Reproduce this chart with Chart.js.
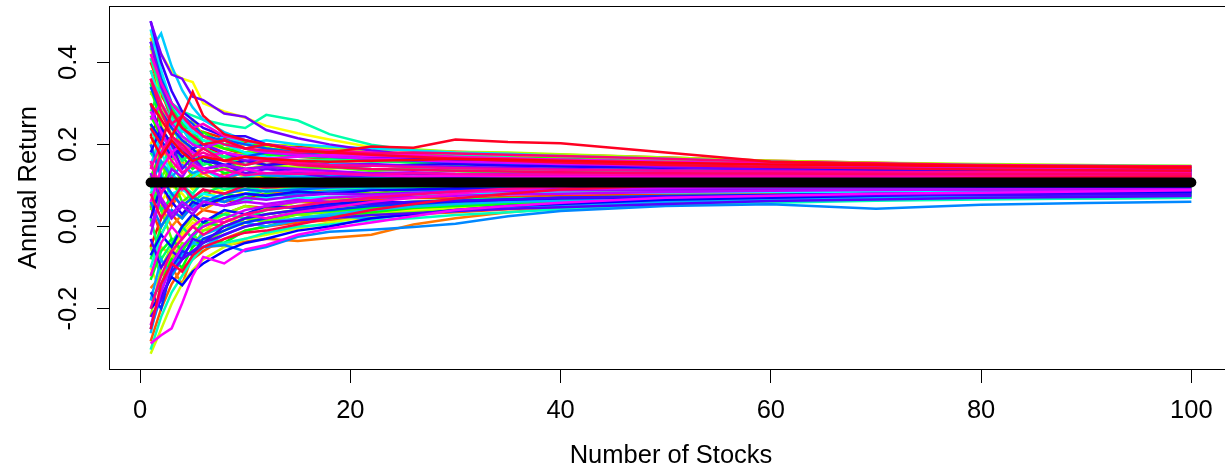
<!DOCTYPE html>
<html>
<head>
<meta charset="utf-8">
<title>Annual Return vs Number of Stocks</title>
<script src="https://cdn.jsdelivr.net/npm/chart.js@4"></script>
<style>
  html, body { margin: 0; padding: 0; background: #fff; overflow: hidden; }
  #wrap { width: 1240px; height: 470px; }
</style>
</head>
<body>
<div id="wrap"><canvas id="chart" width="1240" height="470"></canvas></div>
<script>
// number of stocks held (x positions where each curve was read)
const stockCounts = [1, 2, 3, 4, 5, 6, 8, 10, 12, 15, 18, 22, 26, 30, 35, 40, 50, 60, 70, 80, 90, 100];

// annual return of each simulated portfolio
const s00 = [0.22, 0.28, 0.24, 0.21, 0.19, 0.2, 0.17, 0.16, 0.15, 0.16, 0.155, 0.15, 0.145, 0.14, 0.138, 0.135, 0.13, 0.128, 0.127, 0.126, 0.125, 0.125];
const s01 = [-0.05, 0.02, 0.08, 0.05, 0.07, 0.09, 0.06, 0.07, 0.08, 0.075, 0.085, 0.08, 0.09, 0.088, 0.092, 0.09, 0.094, 0.096, 0.095, 0.096, 0.095, 0.095];
const s02 = [0.40, 0.33, 0.26, 0.24, 0.2, 0.22, 0.19, 0.175, 0.18, 0.17, 0.165, 0.16, 0.158, 0.155, 0.15, 0.148, 0.145, 0.142, 0.14, 0.14, 0.139, 0.138];
const s03 = [0.05, -0.02, 0.03, 0.0, 0.02, 0.04, 0.03, 0.05, 0.045, 0.06, 0.055, 0.065, 0.07, 0.068, 0.072, 0.075, 0.078, 0.08, 0.08, 0.081, 0.082, 0.082];
const s04 = [0.15, 0.1, 0.05, 0.09, 0.12, 0.1, 0.13, 0.11, 0.12, 0.105, 0.115, 0.11, 0.12, 0.115, 0.11, 0.113, 0.11, 0.112, 0.114, 0.113, 0.112, 0.112];
const s05 = [-0.15, -0.12, -0.1, -0.14, -0.07, -0.05, -0.046, -0.037, -0.03, -0.035, -0.028, -0.02, 0.005, 0.02, 0.035, 0.045, 0.06, 0.068, 0.074, 0.078, 0.08, 0.082];
const s06 = [0.30, 0.2, 0.14, 0.16, 0.12, 0.13, 0.1, 0.11, 0.09, 0.1, 0.095, 0.1, 0.093, 0.097, 0.1, 0.098, 0.096, 0.097, 0.098, 0.099, 0.098, 0.098];
const s07 = [0.1, 0.2, 0.17, 0.21, 0.18, 0.19, 0.17, 0.18, 0.19, 0.175, 0.17, 0.165, 0.16, 0.158, 0.155, 0.152, 0.15, 0.148, 0.147, 0.146, 0.145, 0.145];
const s08 = [-0.12, -0.05, -0.07, -0.02, 0.0, -0.01, 0.02, 0.01, 0.03, 0.04, 0.045, 0.05, 0.055, 0.06, 0.062, 0.065, 0.068, 0.07, 0.072, 0.073, 0.074, 0.074];
const s09 = [0.2, 0.25, 0.18, 0.15, 0.16, 0.13, 0.14, 0.12, 0.12, 0.11, 0.105, 0.1, 0.098, 0.095, 0.093, 0.092, 0.09, 0.089, 0.088, 0.088, 0.087, 0.087];
const s10 = [0.47, 0.42, 0.377, 0.36, 0.352, 0.30, 0.28, 0.265, 0.245, 0.227, 0.212, 0.193, 0.183, 0.17, 0.162, 0.155, 0.142, 0.135, 0.128, 0.125, 0.122, 0.12];
const s11 = [0.0, 0.06, 0.1, 0.08, 0.05, 0.07, 0.09, 0.08, 0.1, 0.09, 0.1, 0.095, 0.1, 0.105, 0.102, 0.104, 0.106, 0.105, 0.104, 0.105, 0.105, 0.105];
const s12 = [-0.31, -0.25, -0.188, -0.14, -0.106, -0.08, -0.05, -0.03, -0.02, -0.005, 0.01, 0.025, 0.035, 0.045, 0.055, 0.06, 0.07, 0.075, 0.078, 0.08, 0.082, 0.083];
const s13 = [0.44, 0.3, 0.22, 0.18, 0.16, 0.15, 0.17, 0.14, 0.15, 0.145, 0.14, 0.15, 0.145, 0.14, 0.138, 0.136, 0.135, 0.133, 0.132, 0.131, 0.131, 0.131];
const s14 = [-0.22, -0.1, -0.05, -0.01, 0.02, 0.0, 0.03, 0.05, 0.04, 0.06, 0.065, 0.07, 0.075, 0.078, 0.08, 0.082, 0.085, 0.086, 0.087, 0.088, 0.088, 0.088];
const s15 = [0.33, 0.27, 0.24, 0.2, 0.22, 0.19, 0.2, 0.18, 0.19, 0.185, 0.175, 0.17, 0.165, 0.162, 0.16, 0.158, 0.155, 0.152, 0.15, 0.149, 0.148, 0.148];
const s16 = [0.1, 0.04, -0.03, -0.06, -0.02, -0.04, -0.01, 0.02, 0.01, 0.03, 0.035, 0.045, 0.05, 0.055, 0.058, 0.062, 0.065, 0.068, 0.07, 0.071, 0.072, 0.072];
const s17 = [0.05, 0.12, 0.16, 0.19, 0.15, 0.17, 0.14, 0.16, 0.15, 0.14, 0.145, 0.135, 0.14, 0.135, 0.13, 0.128, 0.126, 0.125, 0.124, 0.123, 0.122, 0.122];
const s18 = [0.25, 0.15, 0.12, 0.06, 0.08, 0.05, 0.07, 0.06, 0.08, 0.075, 0.085, 0.08, 0.088, 0.09, 0.087, 0.09, 0.091, 0.092, 0.092, 0.092, 0.092, 0.092];
const s19 = [0.12, 0.18, 0.22, 0.25, 0.21, 0.23, 0.2, 0.21, 0.19, 0.18, 0.175, 0.168, 0.16, 0.158, 0.155, 0.152, 0.148, 0.146, 0.144, 0.142, 0.141, 0.14];
const s20 = [-0.18, -0.14, -0.08, -0.1, -0.05, -0.03, -0.04, -0.01, 0.0, 0.02, 0.025, 0.035, 0.045, 0.05, 0.055, 0.058, 0.062, 0.065, 0.067, 0.068, 0.069, 0.07];
const s21 = [0.35, 0.24, 0.2, 0.17, 0.14, 0.16, 0.13, 0.14, 0.12, 0.13, 0.125, 0.12, 0.118, 0.12, 0.116, 0.118, 0.116, 0.115, 0.116, 0.115, 0.115, 0.115];
const s22 = [-0.08, 0.0, 0.04, 0.02, 0.06, 0.05, 0.08, 0.07, 0.09, 0.085, 0.08, 0.09, 0.095, 0.092, 0.096, 0.098, 0.1, 0.099, 0.1, 0.1, 0.1, 0.1];
const s23 = [0.28, 0.34, 0.29, 0.25, 0.23, 0.2, 0.21, 0.19, 0.18, 0.17, 0.168, 0.16, 0.155, 0.15, 0.148, 0.145, 0.142, 0.14, 0.138, 0.136, 0.135, 0.135];
const s24 = [0.02, -0.08, -0.04, 0.0, -0.03, 0.01, 0.03, 0.02, 0.04, 0.05, 0.048, 0.055, 0.06, 0.065, 0.068, 0.07, 0.074, 0.076, 0.078, 0.079, 0.08, 0.08];
const s25 = [0.18, 0.14, 0.2, 0.16, 0.18, 0.15, 0.17, 0.15, 0.16, 0.15, 0.145, 0.14, 0.138, 0.135, 0.133, 0.132, 0.13, 0.129, 0.128, 0.127, 0.126, 0.126];
const s26 = [0.08, 0.13, 0.07, 0.1, 0.08, 0.11, 0.09, 0.1, 0.085, 0.095, 0.09, 0.095, 0.092, 0.094, 0.095, 0.094, 0.093, 0.094, 0.094, 0.094, 0.094, 0.094];
const s27 = [0.35, 0.33, 0.30, 0.28, 0.27, 0.26, 0.248, 0.24, 0.272, 0.258, 0.225, 0.199, 0.185, 0.175, 0.168, 0.16, 0.15, 0.142, 0.138, 0.135, 0.132, 0.13];
const s28 = [-0.1, -0.02, 0.03, 0.06, 0.04, 0.07, 0.06, 0.08, 0.09, 0.085, 0.095, 0.1, 0.098, 0.102, 0.104, 0.106, 0.107, 0.108, 0.109, 0.109, 0.109, 0.109];
const s29 = [0.38, 0.3, 0.26, 0.23, 0.24, 0.21, 0.2, 0.19, 0.2, 0.19, 0.18, 0.175, 0.17, 0.165, 0.16, 0.157, 0.152, 0.149, 0.147, 0.145, 0.144, 0.143];
const s30 = [0.09, 0.085, 0.08, 0.09, 0.075, 0.08, 0.07, 0.065, 0.07, 0.068, 0.072, 0.075, 0.078, 0.08, 0.08, 0.082, 0.083, 0.084, 0.085, 0.086, 0.086, 0.086];
const s31 = [0.48, 0.38, 0.3, 0.26, 0.23, 0.22, 0.2, 0.18, 0.17, 0.16, 0.155, 0.15, 0.145, 0.142, 0.14, 0.138, 0.135, 0.133, 0.131, 0.13, 0.129, 0.128];
const s32 = [0.43, 0.47, 0.39, 0.332, 0.29, 0.26, 0.23, 0.21, 0.2, 0.19, 0.185, 0.175, 0.17, 0.165, 0.158, 0.152, 0.145, 0.14, 0.137, 0.135, 0.133, 0.13];
const s33 = [-0.26, -0.15, -0.1, -0.07, -0.04, -0.05, -0.02, 0.0, 0.01, 0.02, 0.03, 0.04, 0.048, 0.055, 0.06, 0.063, 0.068, 0.071, 0.073, 0.075, 0.076, 0.076];
const s34 = [0.1, 0.16, 0.12, 0.15, 0.13, 0.14, 0.12, 0.13, 0.125, 0.12, 0.125, 0.12, 0.118, 0.12, 0.119, 0.118, 0.117, 0.118, 0.117, 0.117, 0.117, 0.117];
const s35 = [-0.25, -0.17, -0.12, -0.08, -0.06, -0.05, -0.045, -0.06, -0.05, -0.025, -0.013, -0.008, -0.001, 0.007, 0.025, 0.038, 0.05, 0.054, 0.043, 0.053, 0.057, 0.060];
const s36 = [0.2, 0.12, 0.08, 0.05, 0.07, 0.06, 0.08, 0.09, 0.085, 0.09, 0.095, 0.098, 0.1, 0.099, 0.1, 0.101, 0.102, 0.101, 0.102, 0.102, 0.102, 0.102];
const s37 = [0.45, 0.36, 0.3, 0.27, 0.25, 0.22, 0.21, 0.2, 0.19, 0.18, 0.172, 0.165, 0.16, 0.155, 0.152, 0.15, 0.146, 0.143, 0.141, 0.139, 0.138, 0.137];
const s38 = [-0.16, -0.2, -0.1, -0.06, -0.07, -0.03, -0.01, 0.01, 0.02, 0.035, 0.04, 0.05, 0.055, 0.06, 0.065, 0.07, 0.074, 0.077, 0.08, 0.082, 0.083, 0.084];
const s39 = [0.25, 0.21, 0.17, 0.19, 0.16, 0.17, 0.15, 0.14, 0.145, 0.135, 0.13, 0.13, 0.128, 0.125, 0.124, 0.123, 0.122, 0.121, 0.121, 0.12, 0.12, 0.12];
const s40 = [-0.2, -0.17, -0.123, -0.143, -0.11, -0.09, -0.06, -0.04, -0.03, -0.01, 0.0, 0.02, 0.03, 0.04, 0.05, 0.055, 0.065, 0.07, 0.075, 0.08, 0.083, 0.085];
const s41 = [0.02, 0.1, 0.06, 0.03, 0.06, 0.05, 0.07, 0.08, 0.075, 0.085, 0.08, 0.088, 0.09, 0.093, 0.092, 0.094, 0.095, 0.096, 0.096, 0.097, 0.097, 0.097];
const s42 = [0.5, 0.4, 0.33, 0.28, 0.26, 0.24, 0.22, 0.22, 0.2, 0.19, 0.18, 0.17, 0.165, 0.16, 0.155, 0.152, 0.145, 0.141, 0.138, 0.136, 0.134, 0.133];
const s43 = [-0.03, -0.1, -0.06, -0.08, -0.03, -0.04, 0.0, 0.02, 0.03, 0.04, 0.05, 0.055, 0.06, 0.063, 0.066, 0.07, 0.072, 0.074, 0.076, 0.077, 0.078, 0.078];
const s44 = [0.3, 0.22, 0.2, 0.14, 0.17, 0.14, 0.15, 0.13, 0.14, 0.13, 0.12, 0.125, 0.12, 0.118, 0.116, 0.115, 0.114, 0.113, 0.113, 0.113, 0.113, 0.113];
const s45 = [0.50, 0.42, 0.37, 0.36, 0.316, 0.308, 0.275, 0.267, 0.235, 0.215, 0.2, 0.185, 0.175, 0.165, 0.16, 0.155, 0.145, 0.138, 0.132, 0.13, 0.128, 0.126];
const s46 = [0.13, 0.06, 0.02, 0.05, 0.03, 0.06, 0.05, 0.07, 0.065, 0.075, 0.08, 0.078, 0.082, 0.085, 0.086, 0.088, 0.089, 0.09, 0.09, 0.09, 0.09, 0.09];
const s47 = [-0.02, 0.08, 0.14, 0.12, 0.16, 0.14, 0.15, 0.14, 0.145, 0.14, 0.135, 0.13, 0.132, 0.128, 0.127, 0.126, 0.125, 0.125, 0.124, 0.124, 0.124, 0.124];
const s48 = [-0.24, -0.16, -0.09, -0.05, -0.02, 0.0, 0.02, 0.04, 0.05, 0.06, 0.07, 0.075, 0.08, 0.085, 0.088, 0.09, 0.094, 0.097, 0.098, 0.099, 0.1, 0.1];
const s49 = [0.26, 0.3, 0.25, 0.22, 0.2, 0.19, 0.21, 0.19, 0.18, 0.175, 0.17, 0.165, 0.162, 0.158, 0.155, 0.152, 0.149, 0.146, 0.144, 0.142, 0.141, 0.141];
const s50 = [-0.285, -0.265, -0.248, -0.187, -0.12, -0.074, -0.09, -0.056, -0.045, -0.02, -0.005, 0.01, 0.025, 0.04, 0.05, 0.058, 0.07, 0.075, 0.08, 0.082, 0.085, 0.088];
const s51 = [0.06, 0.14, 0.18, 0.13, 0.15, 0.14, 0.12, 0.14, 0.13, 0.135, 0.13, 0.125, 0.122, 0.124, 0.122, 0.121, 0.12, 0.12, 0.119, 0.119, 0.119, 0.119];
const s52 = [0.42, 0.35, 0.3, 0.27, 0.24, 0.25, 0.22, 0.21, 0.2, 0.19, 0.185, 0.18, 0.175, 0.17, 0.166, 0.162, 0.156, 0.152, 0.15, 0.148, 0.147, 0.146];
const s53 = [0.16, 0.08, 0.12, 0.09, 0.11, 0.1, 0.12, 0.11, 0.105, 0.11, 0.108, 0.11, 0.107, 0.108, 0.109, 0.108, 0.108, 0.108, 0.108, 0.108, 0.108, 0.108];
const s54 = [0.1, 0.18, 0.22, 0.19, 0.17, 0.18, 0.16, 0.17, 0.16, 0.155, 0.15, 0.148, 0.145, 0.142, 0.14, 0.138, 0.136, 0.134, 0.133, 0.132, 0.132, 0.132];
const s55 = [-0.2, -0.12, -0.06, -0.03, 0.0, -0.02, 0.01, 0.03, 0.04, 0.05, 0.06, 0.07, 0.078, 0.085, 0.092, 0.097, 0.104, 0.108, 0.111, 0.113, 0.114, 0.115];
const s56 = [0.36, 0.28, 0.22, 0.2, 0.17, 0.19, 0.16, 0.15, 0.16, 0.15, 0.145, 0.14, 0.138, 0.136, 0.134, 0.132, 0.13, 0.129, 0.128, 0.127, 0.127, 0.127];
const s57 = [0.08, 0.02, 0.06, 0.1, 0.07, 0.09, 0.08, 0.1, 0.095, 0.1, 0.098, 0.1, 0.102, 0.103, 0.103, 0.104, 0.104, 0.104, 0.104, 0.104, 0.104, 0.104];
const s58 = [0.24, 0.2, 0.28, 0.24, 0.22, 0.2, 0.21, 0.19, 0.2, 0.185, 0.18, 0.175, 0.17, 0.165, 0.16, 0.156, 0.15, 0.145, 0.142, 0.139, 0.137, 0.136];
const s59 = [0.30, 0.26, 0.22, 0.268, 0.328, 0.27, 0.225, 0.21, 0.20, 0.185, 0.18, 0.195, 0.192, 0.212, 0.206, 0.203, 0.18, 0.158, 0.152, 0.148, 0.145, 0.142];

// more portfolios read from the dense middle of the fan
const p00 = [0.38, 0.32, 0.28, 0.26, 0.24, 0.23, 0.215, 0.205, 0.2, 0.195, 0.19, 0.188, 0.185, 0.182, 0.178, 0.175, 0.168, 0.16, 0.155, 0.15, 0.147, 0.145];
const p01 = [-0.28, -0.2, -0.14, -0.1, -0.08, -0.06, -0.03, -0.01, 0.0, 0.01, 0.015, 0.022, 0.03, 0.035, 0.042, 0.048, 0.058, 0.065, 0.07, 0.073, 0.075, 0.077];
const p02 = [0.12, 0.05, 0.0, 0.03, 0.06, 0.04, 0.07, 0.06, 0.08, 0.085, 0.09, 0.088, 0.092, 0.09, 0.094, 0.095, 0.097, 0.098, 0.099, 0.1, 0.1, 0.101];
const p03 = [0.46, 0.37, 0.3, 0.25, 0.22, 0.2, 0.19, 0.2, 0.19, 0.185, 0.188, 0.18, 0.178, 0.175, 0.172, 0.17, 0.162, 0.155, 0.15, 0.146, 0.143, 0.14];
const p04 = [-0.1, -0.16, -0.06, -0.02, 0.01, 0.0, 0.02, 0.0, 0.01, 0.02, 0.03, 0.035, 0.04, 0.045, 0.05, 0.055, 0.062, 0.068, 0.072, 0.075, 0.077, 0.079];
const p05 = [0.2, 0.15, 0.1, 0.12, 0.09, 0.11, 0.08, 0.09, 0.1, 0.095, 0.1, 0.105, 0.1, 0.103, 0.106, 0.105, 0.108, 0.11, 0.111, 0.11, 0.111, 0.111];
const p06 = [0.32, 0.36, 0.28, 0.23, 0.26, 0.22, 0.2, 0.21, 0.195, 0.2, 0.19, 0.185, 0.188, 0.182, 0.18, 0.176, 0.168, 0.16, 0.155, 0.152, 0.15, 0.147];
const p07 = [-0.05, -0.12, -0.08, -0.04, -0.05, -0.01, 0.0, 0.02, 0.015, 0.03, 0.02, 0.03, 0.035, 0.04, 0.045, 0.05, 0.056, 0.062, 0.066, 0.069, 0.071, 0.073];
const p08 = [0.04, 0.1, 0.15, 0.11, 0.13, 0.12, 0.1, 0.12, 0.11, 0.12, 0.115, 0.12, 0.118, 0.115, 0.117, 0.116, 0.118, 0.12, 0.121, 0.122, 0.121, 0.121];
const p09 = [0.27, 0.22, 0.26, 0.22, 0.2, 0.21, 0.19, 0.18, 0.175, 0.17, 0.172, 0.17, 0.175, 0.172, 0.168, 0.165, 0.158, 0.152, 0.148, 0.145, 0.143, 0.141];
const p10 = [-0.13, -0.06, -0.03, -0.06, -0.02, 0.01, 0.0, 0.02, 0.03, 0.04, 0.038, 0.045, 0.05, 0.052, 0.056, 0.06, 0.066, 0.07, 0.074, 0.076, 0.078, 0.079];
const p11 = [0.1, 0.04, 0.07, 0.1, 0.06, 0.08, 0.1, 0.09, 0.11, 0.1, 0.105, 0.1, 0.104, 0.102, 0.105, 0.106, 0.106, 0.107, 0.106, 0.107, 0.107, 0.107];
const p12 = [0.41, 0.33, 0.27, 0.24, 0.21, 0.19, 0.17, 0.175, 0.165, 0.16, 0.162, 0.158, 0.16, 0.162, 0.16, 0.158, 0.154, 0.15, 0.147, 0.144, 0.142, 0.14];
const p13 = [-0.3, -0.22, -0.16, -0.12, -0.08, -0.05, -0.04, -0.03, -0.015, 0.0, 0.005, 0.015, 0.02, 0.028, 0.035, 0.042, 0.052, 0.058, 0.063, 0.066, 0.068, 0.07];
const p14 = [0.24, 0.18, 0.13, 0.1, 0.12, 0.14, 0.11, 0.12, 0.13, 0.125, 0.12, 0.125, 0.122, 0.125, 0.124, 0.126, 0.127, 0.126, 0.127, 0.127, 0.128, 0.128];
const p15 = [0.15, 0.22, 0.19, 0.24, 0.2, 0.19, 0.22, 0.2, 0.21, 0.2, 0.195, 0.19, 0.185, 0.18, 0.177, 0.172, 0.165, 0.158, 0.153, 0.15, 0.148, 0.147];
const p16 = [-0.18, -0.08, -0.12, -0.07, -0.04, -0.02, 0.0, 0.01, 0.0, 0.015, 0.025, 0.02, 0.03, 0.038, 0.045, 0.05, 0.06, 0.066, 0.07, 0.073, 0.075, 0.076];
const p17 = [0.06, 0.0, 0.04, 0.02, 0.05, 0.07, 0.06, 0.08, 0.075, 0.08, 0.085, 0.09, 0.088, 0.09, 0.092, 0.093, 0.096, 0.097, 0.098, 0.099, 0.099, 0.1];
const p18 = [0.34, 0.28, 0.24, 0.21, 0.19, 0.2, 0.18, 0.17, 0.18, 0.175, 0.17, 0.165, 0.168, 0.165, 0.162, 0.16, 0.155, 0.15, 0.146, 0.143, 0.14, 0.139];
const p19 = [-0.07, -0.02, -0.05, 0.0, 0.03, 0.01, 0.04, 0.03, 0.05, 0.045, 0.055, 0.06, 0.058, 0.062, 0.066, 0.068, 0.072, 0.076, 0.079, 0.081, 0.082, 0.083];
const p20 = [0.18, 0.24, 0.2, 0.17, 0.19, 0.16, 0.15, 0.16, 0.15, 0.155, 0.15, 0.148, 0.15, 0.152, 0.148, 0.146, 0.143, 0.14, 0.138, 0.137, 0.136, 0.136];
const p21 = [-0.22, -0.18, -0.11, -0.08, -0.06, -0.04, -0.02, 0.0, 0.01, 0.015, 0.02, 0.028, 0.032, 0.038, 0.043, 0.047, 0.055, 0.062, 0.066, 0.07, 0.072, 0.074];
const p22 = [0.45, 0.34, 0.28, 0.24, 0.22, 0.2, 0.18, 0.16, 0.165, 0.155, 0.15, 0.152, 0.148, 0.145, 0.143, 0.14, 0.137, 0.134, 0.132, 0.13, 0.129, 0.129];
const p23 = [0.0, 0.07, 0.03, 0.06, 0.04, 0.06, 0.05, 0.06, 0.055, 0.065, 0.06, 0.07, 0.072, 0.075, 0.078, 0.08, 0.084, 0.087, 0.089, 0.09, 0.091, 0.091];
const p24 = [0.28, 0.23, 0.18, 0.2, 0.18, 0.17, 0.18, 0.17, 0.165, 0.17, 0.175, 0.172, 0.17, 0.168, 0.165, 0.163, 0.158, 0.153, 0.15, 0.148, 0.146, 0.145];
const p25 = [-0.12, -0.04, 0.0, -0.03, 0.0, 0.02, 0.01, 0.03, 0.02, 0.035, 0.045, 0.06, 0.07, 0.08, 0.09, 0.098, 0.11, 0.118, 0.122, 0.126, 0.128, 0.13];
const p26 = [0.14, 0.2, 0.16, 0.13, 0.15, 0.13, 0.14, 0.125, 0.13, 0.128, 0.13, 0.126, 0.13, 0.128, 0.126, 0.127, 0.125, 0.124, 0.123, 0.123, 0.123, 0.123];
const p27 = [0.36, 0.3, 0.25, 0.27, 0.24, 0.22, 0.2, 0.19, 0.185, 0.18, 0.182, 0.178, 0.18, 0.178, 0.175, 0.172, 0.165, 0.158, 0.154, 0.15, 0.148, 0.146];
const p28 = [-0.25, -0.14, -0.09, -0.11, -0.07, -0.05, -0.03, -0.015, -0.01, 0.005, 0.02, 0.04, 0.055, 0.068, 0.08, 0.09, 0.1, 0.108, 0.114, 0.118, 0.12, 0.122];
const p29 = [0.22, 0.17, 0.21, 0.18, 0.16, 0.17, 0.16, 0.17, 0.165, 0.16, 0.158, 0.16, 0.162, 0.165, 0.163, 0.16, 0.155, 0.151, 0.149, 0.147, 0.146, 0.145];

// drawing order (first = bottom, rainbow hue follows this order)
const portfolios = [
  s00, s01, p00, s02, s03, p01, s04, s05, p02, s06,
  s07, p03, s08, s09, p04, s10, s11, p05, s12, s13,
  p06, s14, s15, p07, s16, s17, p08, s18, s19, p09,
  s20, s21, p10, s22, s23, p11, s24, s25, p12, s26,
  s27, p13, s28, s29, p14, s30, s31, p15, s32, s33,
  p16, s34, s35, p17, s36, s37, p18, s38, s39, p19,
  s40, s41, p20, s42, s43, p21, s44, s45, p22, s46,
  s47, p23, s48, s49, p24, s50, s51, p25, s52, s53,
  p26, s54, s55, p27, s56, s57, p28, s58, s59, p29
];

// average return of the whole market (thick black line)
const meanCounts = [1, 100];
const meanReturn = [0.107, 0.107];

const xTicks = [0, 20, 40, 60, 80, 100];
const yTicks = [-0.2, 0.0, 0.2, 0.4];

// =============================================

const FONT = { family: "'Liberation Sans', Arial, sans-serif", size: 25.5 };
const TITLE_FONT = { family: "'Liberation Sans', Arial, sans-serif", size: 25.5, lineHeight: 1.1 };

const datasets = portfolios.map((ys, i) => ({
  data: ys.map((y, k) => ({ x: stockCounts[k], y })),
  borderColor: `hsl(${i * 360 / portfolios.length}, 100%, 50%)`,
  borderWidth: 2.5,
  pointRadius: 0,
  tension: 0,
  // later portfolios sit on top, like R draws them
  order: portfolios.length - i
}));

datasets.push({
  data: meanCounts.map((x, k) => ({ x, y: meanReturn[k] })),
  borderColor: '#000',
  borderWidth: 10,
  borderCapStyle: 'round',
  pointRadius: 0,
  order: 0
});

// R style box round the plot region
const boxPlugin = {
  id: 'plotBox',
  afterDraw(chart) {
    const { ctx, chartArea: a } = chart;
    ctx.save();
    ctx.strokeStyle = '#000';
    ctx.lineWidth = 1;
    ctx.strokeRect(Math.round(a.left) + 0.5, Math.round(a.top) + 0.5, a.right - a.left, a.bottom - a.top);
    ctx.restore();
  }
};

new Chart(document.getElementById('chart'), {
  type: 'line',
  data: { datasets },
  plugins: [boxPlugin],
  options: {
    responsive: false,
    animation: false,
    layout: { padding: { top: 6, right: 7, left: 0, bottom: 0 } },
    plugins: { legend: { display: false }, tooltip: { enabled: false } },
    scales: {
      x: {
        type: 'linear',
        min: -2.96,
        max: 103.96,
        afterBuildTicks: s => { s.ticks = xTicks.map(v => ({ value: v })); },
        afterFit: s => { s.height = 101; s.paddingLeft = 0; s.paddingRight = 0; },
        grid: { display: true, drawOnChartArea: false, drawTicks: true, tickLength: 14, tickColor: '#000', tickWidth: 1 },
        border: { display: false },
        ticks: { color: '#000', font: FONT, padding: 13, maxRotation: 0, autoSkip: false, callback: v => String(v) },
        title: { display: true, text: 'Number of Stocks', color: '#000', font: TITLE_FONT, padding: { top: 0, bottom: 0 } }
      },
      y: {
        type: 'linear',
        min: -0.347,
        max: 0.537,
        afterBuildTicks: s => { s.ticks = yTicks.map(v => ({ value: v })); },
        afterFit: s => { s.width = 109; s.paddingTop = 0; s.paddingBottom = 0; },
        grid: { display: true, drawOnChartArea: false, drawTicks: true, tickLength: 12, tickColor: '#000', tickWidth: 1 },
        border: { display: false },
        ticks: { color: '#000', font: FONT, padding: 6, minRotation: 90, maxRotation: 90, crossAlign: 'center', autoSkip: false, callback: v => v.toFixed(1) },
        title: { display: true, text: 'Annual Return', color: '#000', font: TITLE_FONT, padding: { top: 15, bottom: 0 } }
      }
    }
  }
});
</script>
</body>
</html>
